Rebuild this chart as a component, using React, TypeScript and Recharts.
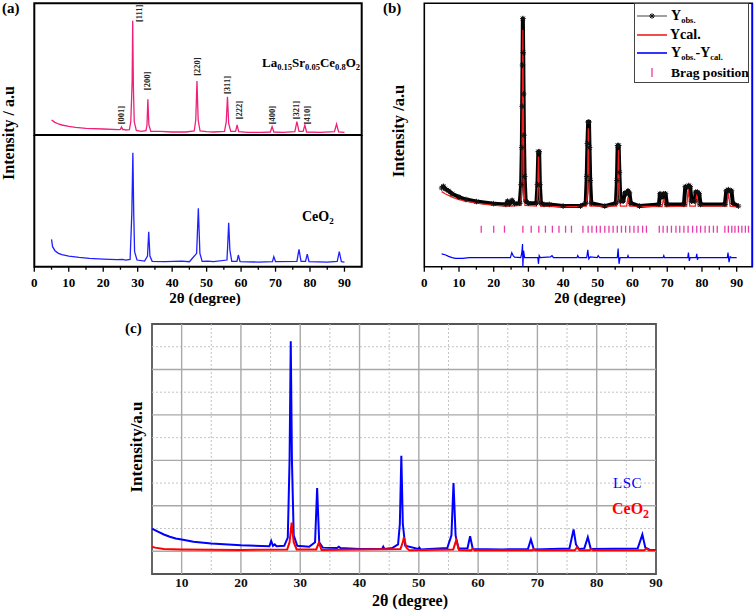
import React from 'react';
import { ComposedChart, Line, XAxis, YAxis, ReferenceArea, ReferenceLine, Scatter } from 'recharts';

type P = [number, number];

const SERIF = '"Liberation Serif", "Times New Roman", serif';
const PINK = '#f0207a';
const BLUE_A = '#2020ff';
const RED = '#ee2020';
const BLUE = '#0000ff';
const BRAGG = '#e83aa8';

// ---------- Panel (a) ----------
const lscA: P[] = [
  [5, 0.4], [6, 0.33], [7, 0.28], [8, 0.25], [10, 0.21], [12, 0.18], [15, 0.15], [20, 0.13], [24.5, 0.11],
  [25.0, 0.12], [25.3, 0.19], [25.7, 0.11], [26.1, 0.12], [26.5, 0.1], [27.6, 0.11], [28.0, 0.35], [28.25, 1.1],
  [28.4, 1.6], [28.55, 3.38], [28.75, 1.4], [29.0, 0.35], [29.6, 0.09], [31, 0.06], [32.4, 0.08], [32.7, 0.25],
  [32.95, 1.02], [33.25, 0.25], [33.8, 0.06], [36.5, 0.06], [40, 0.04], [44, 0.04], [46.4, 0.07], [46.85, 0.4],
  [47.2, 1.57], [47.55, 0.4], [48.1, 0.07], [50, 0.05], [52, 0.04], [55.2, 0.06], [55.7, 0.35], [56.05, 1.1],
  [56.4, 0.3], [57, 0.06], [58.4, 0.06], [58.85, 0.25], [59.3, 0.05], [62, 0.03], [66, 0.03], [68.5, 0.04],
  [69.0, 0.2], [69.5, 0.04], [72, 0.03], [75.6, 0.05], [76.2, 0.35], [76.8, 0.06], [78.0, 0.06], [78.5, 0.25],
  [79.0, 0.04], [83, 0.03], [87.1, 0.05], [87.7, 0.28], [88.3, 0.04], [90, 0.03],
];

const ceA: P[] = [
  [5, 0.72], [5.3, 0.5], [6, 0.38], [7, 0.3], [8, 0.26], [10, 0.22], [13, 0.18], [16, 0.15], [20, 0.13],
  [24, 0.11], [25.6, 0.12], [26.5, 0.1], [27.8, 0.12], [28.3, 1.5], [28.6, 3.32], [28.85, 1.5], [29.1, 0.35],
  [29.8, 0.1], [32, 0.07], [32.85, 0.22], [33.2, 0.95], [33.55, 0.22], [34.2, 0.06], [38, 0.05], [42.8, 0.07],
  [45, 0.05], [47.1, 0.3], [47.6, 1.65], [48.05, 0.3], [48.7, 0.06], [50.3, 0.07], [52, 0.05], [55.9, 0.1],
  [56.1, 0.5], [56.4, 1.22], [56.75, 0.4], [57.3, 0.06], [58.8, 0.06], [59.2, 0.25], [59.7, 0.05], [65, 0.04],
  [69.1, 0.05], [69.5, 0.2], [70, 0.05], [76.2, 0.06], [76.8, 0.42], [77.4, 0.06], [78.7, 0.06], [79.2, 0.28],
  [79.7, 0.05], [85, 0.04], [87.9, 0.06], [88.5, 0.35], [89.1, 0.05], [90, 0.04],
];

const peakLabelsA = [
  { x: 25.2, y: 0.55, t: '[001]' },
  { x: 30.4, y: 3.6, t: '[111]' },
  { x: 32.6, y: 1.57, t: '[200]' },
  { x: 47.2, y: 2.0, t: '[220]' },
  { x: 56.0, y: 1.45, t: '[311]' },
  { x: 59.5, y: 0.7, t: '[222]' },
  { x: 69.0, y: 0.55, t: '[400]' },
  { x: 76.0, y: 0.7, t: '[321]' },
  { x: 79.2, y: 0.55, t: '[410]' },
];

// ---------- Panel (b) ----------
const obsB: P[] = [
  [5, 0.52], [5.5, 0.56], [6, 0.5], [7, 0.45], [8, 0.38], [10, 0.3], [12, 0.24], [15, 0.19], [20, 0.14],
  [23.5, 0.12], [24.0, 0.2], [24.5, 0.13], [25.3, 0.22], [26, 0.14], [27.5, 0.15], [27.9, 0.6], [28.1, 1.5],
  [28.2, 2.5], [28.3, 3.5], [28.4, 4.63], [28.5, 3.8], [28.6, 2.8], [28.7, 1.8], [28.9, 0.8], [29.2, 0.2],
  [30, 0.15], [32.3, 0.15], [32.6, 0.6], [32.85, 1.4], [33.1, 1.4], [33.3, 0.6], [33.6, 0.15], [34.5, 0.12],
  [36, 0.12], [40, 0.08], [45, 0.08], [46.5, 0.15], [46.8, 0.8], [47.0, 1.6], [47.2, 2.12], [47.45, 2.12],
  [47.6, 1.5], [47.8, 0.7], [48.1, 0.15], [52, 0.08], [55.2, 0.15], [55.5, 0.7], [55.7, 1.55], [56.0, 1.55],
  [56.2, 0.9], [56.5, 0.2], [57.3, 0.2], [57.8, 0.4], [58.3, 0.38], [58.7, 0.45], [59.1, 0.4], [59.5, 0.15],
  [62, 0.08], [67.6, 0.12], [67.9, 0.38], [68.5, 0.3], [69.0, 0.38], [69.5, 0.38], [69.9, 0.12], [74.8, 0.12],
  [75.2, 0.55], [75.8, 0.55], [76.2, 0.58], [76.6, 0.55], [77.0, 0.2], [77.9, 0.2], [78.2, 0.42], [78.7, 0.42],
  [79.2, 0.38], [79.6, 0.12], [86.6, 0.12], [87.0, 0.45], [87.6, 0.48], [88.1, 0.45], [88.5, 0.45], [88.9, 0.15],
  [90.5, 0.08],
];

const calB: P[] = [
  [5, 0.43], [6, 0.38], [8, 0.3], [10, 0.24], [12, 0.2], [15, 0.15], [20, 0.1], [25, 0.08], [27.8, 0.1],
  [28.1, 0.5], [28.4, 4.35], [28.7, 0.5], [29.0, 0.1], [32.3, 0.08], [32.6, 0.3], [32.9, 1.28], [33.2, 0.3],
  [33.5, 0.08], [40, 0.06], [46.7, 0.08], [47.0, 0.4], [47.25, 1.97], [47.5, 0.4], [47.8, 0.08], [55.4, 0.08],
  [55.7, 0.35], [55.95, 1.44], [56.2, 0.35], [56.5, 0.08], [58.3, 0.08], [58.7, 0.3], [59.1, 0.08], [68.5, 0.07],
  [68.95, 0.26], [69.4, 0.07], [75.6, 0.08], [76.05, 0.5], [76.5, 0.08], [78.1, 0.08], [78.5, 0.38], [78.9, 0.08],
  [87.1, 0.08], [87.6, 0.4], [88.1, 0.08], [90, 0.06],
];

const diffB: P[] = [
  [5, -1.08], [6, -1.1], [7, -1.14], [8, -1.17], [9, -1.19], [11, -1.19], [13, -1.17], [24.8, -1.17],
  [25.2, -1.05], [25.6, -1.12], [26, -1.16], [27.8, -1.17], [28.1, -1.05], [28.3, -0.84], [28.4, -1.39],
  [28.6, -1.0], [28.9, -1.17], [32.7, -1.17], [32.9, -1.32], [33.1, -1.12], [33.4, -1.17], [36.4, -1.15],
  [36.8, -1.12], [37.2, -1.17], [44, -1.17], [44.2, -1.12], [44.5, -1.17], [46.8, -1.17], [47.1, -0.98],
  [47.4, -1.2], [47.8, -1.15], [49.8, -1.17], [50.1, -1.12], [50.5, -1.17], [55.6, -1.17], [55.85, -0.95],
  [56.1, -1.32], [56.4, -1.17], [58.5, -1.17], [58.7, -1.12], [58.9, -1.17], [68.8, -1.17], [69.0, -1.12],
  [69.2, -1.17], [75.9, -1.17], [76.1, -1.05], [76.35, -1.25], [76.6, -1.17], [78.3, -1.17], [78.5, -1.08],
  [78.7, -1.22], [78.9, -1.17], [87.3, -1.17], [87.5, -1.05], [87.8, -1.28], [88.1, -1.15], [88.5, -1.17],
  [90, -1.17],
];

const braggX: number[] = [
  16.4, 20.0, 23.1, 28.4, 30.8, 33.0, 34.9, 36.9, 38.8, 40.7, 42.4, 45.7, 47.2, 48.3, 49.6, 50.7, 52.0,
  53.2, 54.4, 55.6, 56.8, 58.0, 59.2, 60.4, 61.6, 62.9, 64.0, 67.7, 68.8, 70.0, 71.2, 72.5, 73.6, 74.8,
  76.0, 77.3, 78.5, 79.6, 80.9, 82.1, 83.3, 84.4, 86.6, 87.6, 88.6, 89.5, 90.5, 91.5, 92.5, 93.4,
];
const BRAGG_LEVEL = -0.48;

// ---------- Panel (c) ----------
const lscC: P[] = [
  [5, 0.5], [6, 0.43], [7, 0.37], [8, 0.32], [9, 0.28], [10, 0.26], [12, 0.21], [15, 0.17], [20, 0.13],
  [24.8, 0.11], [25.1, 0.23], [25.4, 0.12], [25.7, 0.15], [26.0, 0.11], [27.3, 0.12], [27.9, 0.3], [28.2, 2.0],
  [28.4, 4.62], [28.6, 2.0], [28.9, 0.35], [29.5, 0.12], [31.5, 0.1], [32.5, 0.2], [32.85, 1.39], [33.2, 0.2],
  [33.8, 0.08], [36.2, 0.07], [36.5, 0.1], [36.8, 0.07], [40, 0.05], [43.8, 0.05], [44.0, 0.1], [44.2, 0.05],
  [45.5, 0.07], [46.5, 0.15], [46.8, 0.6], [47.05, 2.1], [47.3, 0.6], [47.7, 0.12], [49.9, 0.05], [50.1, 0.08],
  [50.3, 0.04], [54.8, 0.07], [55.5, 0.35], [55.85, 1.5], [56.2, 0.35], [56.7, 0.06], [58.2, 0.06], [58.65, 0.33],
  [59.1, 0.05], [64, 0.04], [68.4, 0.05], [68.9, 0.26], [69.4, 0.04], [75.4, 0.06], [75.8, 0.3], [76.1, 0.48],
  [76.5, 0.15], [77.0, 0.05], [77.9, 0.06], [78.5, 0.31], [79.0, 0.05], [86.9, 0.06], [87.4, 0.25], [87.7, 0.37],
  [88.2, 0.08], [89, 0.03], [90, 0.03],
];

const ceC: P[] = [
  [5, 0.1], [5.5, 0.08], [7, 0.05], [10, 0.04], [20, 0.03], [27.8, 0.04], [28.2, 0.2], [28.55, 0.63],
  [28.9, 0.2], [29.4, 0.04], [32.7, 0.04], [33.15, 0.19], [33.6, 0.03], [46.9, 0.05], [47.3, 0.2], [47.5, 0.31],
  [47.9, 0.08], [48.4, 0.02], [55.8, 0.04], [56.3, 0.24], [56.8, 0.03], [58.8, 0.02], [59.1, 0.06], [59.4, 0.02],
  [69.1, 0.02], [69.4, 0.05], [69.7, 0.02], [76.3, 0.02], [76.7, 0.09], [77.1, 0.02], [78.8, 0.02], [79.1, 0.05],
  [79.4, 0.02], [88.0, 0.02], [88.4, 0.06], [88.8, 0.02], [90, 0.02],
];

// ---------- Ticks ----------
const xTicksAB = [0, 5, 10, 15, 20, 25, 30, 35, 40, 45, 50, 55, 60, 65, 70, 75, 80, 85, 90];
const yTicksA = [0, 0.5, 1, 1.5, 2, 2.5, 3, 3.5];
const yTicksB = [-1, -0.5, 0, 0.5, 1, 1.5, 2, 2.5, 3, 3.5, 4, 4.5];
const xTicksC = [10, 20, 30, 40, 50, 60, 70, 80, 90];
const gridMajorX = [10, 20, 30, 40, 50, 60, 70, 80];
const gridMinorX = [15, 25, 35, 45, 55, 65, 75, 85];
const gridMajorY = [0, 1, 2, 3, 4];
const gridMinorY = [0.5, 1.5, 2.5, 3.5, 4.5];

const toXY = (arr: P[]) => arr.map(([x, y]) => ({ x, y }));

const XTickAB = (props: any) => {
  const { x, y, payload } = props;
  const v = payload.value;
  const major = v % 10 === 0;
  return (
    <g>
      <line x1={x} x2={x} y1={y} y2={y + (major ? 5 : 3)} stroke="#000" strokeWidth={1.3} />
      {major && (
        <text x={x} y={y + 20} textAnchor="middle" fontSize={13} fontWeight="bold" fontFamily={SERIF} fill="#000">
          {v}
        </text>
      )}
    </g>
  );
};

const YTickOut = (props: any) => {
  const { x, y, payload } = props;
  const major = Number.isInteger(payload.value);
  return <line x1={x} x2={x - (major ? 5 : 3)} y1={y} y2={y} stroke="#000" strokeWidth={1.3} />;
};

const XTickC = (props: any) => {
  const { x, y, payload } = props;
  return (
    <text x={x} y={y + 13} textAnchor="middle" fontSize={13.5} fontWeight="bold" fontFamily={SERIF} fill="#111">
      {payload.value}
    </text>
  );
};

const PeakLabel = (p: any) => (
  <text
    x={p.cx}
    y={p.cy}
    transform={`rotate(-90 ${p.cx} ${p.cy})`}
    textAnchor="middle"
    dominantBaseline="central"
    fontSize={8.5}
    fontWeight="bold"
    fontFamily={SERIF}
    fill="#222"
  >
    {p.payload.t}
  </text>
);

const BraggTick = (p: any) => (
  <line x1={p.cx} x2={p.cx} y1={p.cy - 3.5} y2={p.cy + 3.5} stroke={BRAGG} strokeWidth={1.3} />
);

const StarDot = (p: any) => {
  const { cx, cy, index } = p;
  if (cx == null || cy == null) return <g key={index} />;
  const r = 2.8;
  const d = r * 0.72;
  return (
    <g key={index} stroke="#111" strokeWidth={1}>
      <line x1={cx - r} x2={cx + r} y1={cy} y2={cy} />
      <line x1={cx} x2={cx} y1={cy - r} y2={cy + r} />
      <line x1={cx - d} x2={cx + d} y1={cy - d} y2={cy + d} />
      <line x1={cx - d} x2={cx + d} y1={cy + d} y2={cy - d} />
    </g>
  );
};

const abs = (left: number, top: number, extra: React.CSSProperties = {}): React.CSSProperties => ({
  position: 'absolute',
  left,
  top,
  fontFamily: SERIF,
  whiteSpace: 'nowrap',
  lineHeight: 1,
  ...extra,
});

const sub = (size: number): React.CSSProperties => ({ fontSize: size, verticalAlign: 'baseline', position: 'relative', top: size * 0.35 });

export default function App() {
  const lscAData = toXY(lscA);
  const ceAData = toXY(ceA);
  const obsData = toXY(obsB);
  const calData = toXY(calB);
  const diffData = toXY(diffB);
  const braggData = braggX.map((x) => ({ x, y: BRAGG_LEVEL }));
  const lscCData = toXY(lscC);
  const ceCData = toXY(ceC);

  return (
    <div style={{ position: 'absolute', left: 0, top: 0, width: 756, height: 612, background: '#fff', overflow: 'hidden' }}>
      {/* Panel (a) top */}
      <div style={{ position: 'absolute', left: 0, top: 0 }}>
        <ComposedChart width={370} height={140} margin={{ top: 3.3, right: 8.3, bottom: 5, left: 34.3 }}>
          <XAxis type="number" dataKey="x" domain={[0, 95]} hide />
          <YAxis
            type="number"
            domain={[-0.05, 3.9]}
            ticks={yTicksA}
            interval={0}
            width={0}
            tickSize={0}
            tickMargin={0}
            axisLine={false}
            tickLine={false}
            tick={YTickOut}
          />
          <ReferenceArea x1={0} x2={95} y1={-0.05} y2={3.9} fill="none" stroke="#000" strokeWidth={2} ifOverflow="visible" />
          <Line data={lscAData} dataKey="y" type="linear" stroke={PINK} strokeWidth={1.3} dot={false} isAnimationActive={false} />
          <Scatter data={peakLabelsA} dataKey="y" shape={PeakLabel} isAnimationActive={false} />
        </ComposedChart>
      </div>

      {/* Panel (a) bottom */}
      <div style={{ position: 'absolute', left: 0, top: 135 }}>
        <ComposedChart width={370} height={172} margin={{ top: 0, right: 8.3, bottom: 10.3, left: 34.3 }}>
          <XAxis
            type="number"
            dataKey="x"
            domain={[0, 95]}
            ticks={xTicksAB}
            interval={0}
            height={30}
            tickSize={0}
            tickMargin={0}
            axisLine={false}
            tickLine={false}
            tick={XTickAB}
          />
          <YAxis
            type="number"
            domain={[-0.1, 3.85]}
            ticks={yTicksA}
            interval={0}
            width={0}
            tickSize={0}
            tickMargin={0}
            axisLine={false}
            tickLine={false}
            tick={YTickOut}
          />
          <ReferenceArea x1={0} x2={95} y1={-0.1} y2={3.85} fill="none" stroke="#000" strokeWidth={2} ifOverflow="visible" />
          <Line data={ceAData} dataKey="y" type="linear" stroke={BLUE_A} strokeWidth={1.3} dot={false} isAnimationActive={false} />
        </ComposedChart>
      </div>

      {/* Panel (b) */}
      <div style={{ position: 'absolute', left: 380, top: 0 }}>
        <ComposedChart width={376} height={300} margin={{ top: 3.3, right: 3.7, bottom: 3.3, left: 44.3 }}>
          <XAxis
            type="number"
            dataKey="x"
            domain={[0, 94.5]}
            ticks={xTicksAB}
            interval={0}
            height={30}
            tickSize={0}
            tickMargin={0}
            axisLine={false}
            tickLine={false}
            tick={XTickAB}
          />
          <YAxis
            type="number"
            domain={[-1.39, 5]}
            ticks={yTicksB}
            interval={0}
            width={0}
            tickSize={0}
            tickMargin={0}
            axisLine={false}
            tickLine={false}
            tick={YTickOut}
          />
          <ReferenceArea x1={0} x2={94.5} y1={-1.39} y2={5} fill="none" stroke="#000" strokeWidth={1.6} ifOverflow="visible" />
          <ReferenceLine x={94.5} stroke="#0000ff" strokeWidth={1.6} ifOverflow="visible" />
          <Line
            data={obsData}
            dataKey="y"
            type="linear"
            stroke="#000"
            strokeWidth={4}
            strokeLinejoin="round"
            dot={StarDot}
            isAnimationActive={false}
          />
          <Line data={calData} dataKey="y" type="linear" stroke={RED} strokeWidth={1.3} dot={false} isAnimationActive={false} />
          <Line data={diffData} dataKey="y" type="linear" stroke={BLUE} strokeWidth={1.2} dot={false} isAnimationActive={false} />
          <Scatter data={braggData} dataKey="y" shape={BraggTick} isAnimationActive={false} />
        </ComposedChart>
      </div>

      {/* Panel (c) */}
      <div style={{ position: 'absolute', left: 100, top: 300 }}>
        <ComposedChart width={600} height={312} margin={{ top: 24, right: 44, bottom: 8, left: 52 }}>
          <XAxis
            type="number"
            dataKey="x"
            domain={[5, 90]}
            ticks={xTicksC}
            interval={0}
            height={30}
            tickSize={0}
            tickMargin={0}
            axisLine={false}
            tickLine={false}
            tick={XTickC}
          />
          <YAxis type="number" domain={[-0.5, 5]} hide />
          {gridMinorX.map((v) => (
            <ReferenceLine key={`mx${v}`} x={v} stroke="#c4c4c4" strokeWidth={1} strokeDasharray="2 2" />
          ))}
          {gridMinorY.map((v) => (
            <ReferenceLine key={`my${v}`} y={v} stroke="#c4c4c4" strokeWidth={1} strokeDasharray="2 2" />
          ))}
          {gridMajorX.map((v) => (
            <ReferenceLine key={`Mx${v}`} x={v} stroke="#a8a8a8" strokeWidth={1.4} />
          ))}
          {gridMajorY.map((v) => (
            <ReferenceLine key={`My${v}`} y={v} stroke="#a8a8a8" strokeWidth={1.4} />
          ))}
          <ReferenceArea x1={5} x2={90} y1={-0.5} y2={5} fill="none" stroke="#555" strokeWidth={1.8} ifOverflow="visible" />
          <Line data={lscCData} dataKey="y" type="linear" stroke={BLUE} strokeWidth={2} dot={false} isAnimationActive={false} />
          <Line data={ceCData} dataKey="y" type="linear" stroke="#ff0000" strokeWidth={2} dot={false} isAnimationActive={false} />
        </ComposedChart>
      </div>

      {/* Panel labels */}
      <div style={abs(2, 1, { fontSize: 15, fontWeight: 'bold' })}>(a)</div>
      <div style={abs(383, 1, { fontSize: 15, fontWeight: 'bold' })}>(b)</div>
      <div style={abs(125, 321, { fontSize: 15, fontWeight: 'bold' })}>(c)</div>

      {/* Axis titles */}
      <div style={abs(8.5, 133, { fontSize: 16, fontWeight: 'bold', transform: 'translate(-50%, -50%) rotate(-90deg)' })}>
        Intensity / a.u
      </div>
      <div style={abs(398.5, 131, { fontSize: 16.5, fontWeight: 'bold', transform: 'translate(-50%, -50%) rotate(-90deg)' })}>
        Intensity /a.u
      </div>
      <div style={abs(136, 447, { fontSize: 17, fontWeight: 'bold', transform: 'translate(-50%, -50%) rotate(-90deg)' })}>
        Intensity/a.u
      </div>
      <div style={abs(205, 291, { fontSize: 15, fontWeight: 'bold', transform: 'translateX(-50%)' })}>2θ (degree)</div>
      <div style={abs(590, 291, { fontSize: 15, fontWeight: 'bold', transform: 'translateX(-50%)' })}>2θ (degree)</div>
      <div style={abs(410, 593, { fontSize: 16, fontWeight: 'bold', transform: 'translateX(-50%)' })}>2θ (degree)</div>

      {/* Panel (a) annotations */}
      <div style={abs(262, 56, { fontSize: 13, fontWeight: 'bold' })}>
        La<span style={sub(8.5)}>0.15</span>Sr<span style={sub(8.5)}>0.05</span>Ce<span style={sub(8.5)}>0.8</span>O
        <span style={sub(8.5)}>2</span>
      </div>
      <div style={abs(302, 210, { fontSize: 14, fontWeight: 'bold' })}>
        CeO<span style={sub(9)}>2</span>
      </div>

      {/* Panel (b) legend */}
      <div style={{ position: 'absolute', left: 634, top: 3, width: 115, height: 80, border: '1px solid #444', boxSizing: 'border-box', background: '#fff' }}>
        <svg width={115} height={80} style={{ position: 'absolute', left: 0, top: 0 }}>
          <line x1={2} x2={32} y1={12} y2={12} stroke="#888" strokeWidth={1.6} />
          <StarDot cx={17} cy={12} index={0} />
          <line x1={2} x2={32} y1={31} y2={31} stroke={RED} strokeWidth={1.6} />
          <line x1={2} x2={32} y1={49} y2={49} stroke={BLUE} strokeWidth={1.6} />
          <line x1={17} x2={17} y1={64} y2={73} stroke={BRAGG} strokeWidth={1.3} />
        </svg>
        <div style={abs(36, 5, { fontSize: 14, fontWeight: 'bold' })}>
          Y<span style={sub(8.5)}>obs.</span>
        </div>
        <div style={abs(35, 24, { fontSize: 14, fontWeight: 'bold' })}>Ycal.</div>
        <div style={abs(36, 42, { fontSize: 14, fontWeight: 'bold' })}>
          Y<span style={sub(8.5)}>obs.</span>-Y<span style={sub(8.5)}>cal.</span>
        </div>
        <div style={abs(36, 62, { fontSize: 13.5, fontWeight: 'bold' })}>Brag position</div>
      </div>

      {/* Panel (c) legend text */}
      <div style={abs(613, 476, { fontSize: 15, color: BLUE, letterSpacing: 0.5 })}>LSC</div>
      <div style={abs(612, 501, { fontSize: 16, fontWeight: 'bold', color: '#ff0000' })}>
        CeO<span style={sub(12)}>2</span>
      </div>
    </div>
  );
}
